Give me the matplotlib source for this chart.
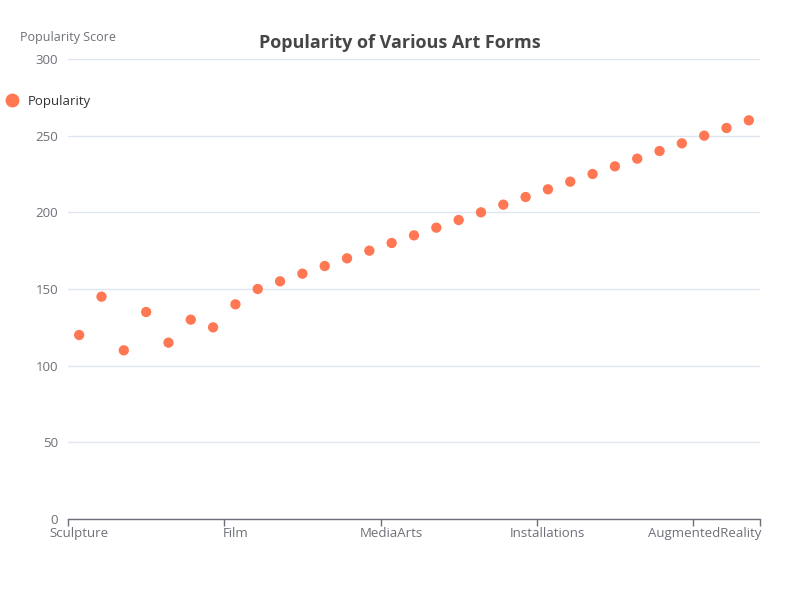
import matplotlib
matplotlib.use("Agg")
import matplotlib.pyplot as plt
from matplotlib.lines import Line2D
import numpy as np

categories = ["Sculpture", "Painting", "Photography", "Drawing", "Printmaking", "Ceramics", "Textiles",
              "Film", "Theater", "Dance", "Music", "Literature", "Architecture", "Design",
              "MediaArts", "DigitalArt", "StreetArt", "Performance", "VideoArt", "SoundArt", "LightArt",
              "Installations", "Animation", "GameArt", "NFTArt", "GenerativeArt", "AIArt", "VirtualReality",
              "AugmentedReality", "Holography", "BioArt"]
popularity = [120, 145, 110, 135, 115, 130, 125, 140, 150, 155, 160, 165, 170, 175, 180, 185,
              190, 195, 200, 205, 210, 215, 220, 225, 230, 235, 240, 245, 250, 255, 260]
y_ticks = [0, 50, 100, 150, 200, 250, 300]

plt.rcParams['font.family'] = ['Open Sans', 'DejaVu Sans']
color = '#FF7753'
axis_c = '#6E7079'

fig = plt.figure(figsize=(8, 6), dpi=100)
ax = fig.add_axes([68/800, 1 - 519/600, 692/800, 460/600])
n = len(categories)
x = np.arange(n)
ax.scatter(x, popularity, s=55, color=color, edgecolors='none', zorder=3)
ax.set_xlim(-0.5, n - 0.5)
ax.set_ylim(0, 300)
ax.set_yticks(y_ticks)
ax.set_yticklabels([str(v) for v in y_ticks], color=axis_c, fontsize=9.5)
ax.tick_params(axis='y', length=0, pad=7)
ax.grid(axis='y', color='#E0E6F1', linewidth=1, zorder=0)
for s in ['top', 'right', 'left']:
    ax.spines[s].set_visible(False)
ax.spines['bottom'].set_color(axis_c)
ax.spines['bottom'].set_linewidth(1)

# ticks at band boundaries every 7 categories, labels at band centers
label_idx = list(range(0, n, 7))
ax.set_xticks(label_idx)
ax.set_xticklabels([categories[i] for i in label_idx], color=axis_c, fontsize=9.5)
ax.tick_params(axis='x', length=0, pad=6)
bounds = [i - 0.5 for i in label_idx] + [n - 0.5]
ax.set_xticks(bounds, minor=True)
ax.tick_params(axis='x', which='minor', length=5, color=axis_c, width=1)

fig.text(0.5, 1 - 43/600, "Popularity of Various Art Forms", ha='center', va='center',
         fontsize=13, fontweight='bold', color='#464646')
fig.text(68/800, 1 - 38/600, "Popularity Score", ha='center', va='center',
         fontsize=9, color=axis_c)
fig.legend(handles=[Line2D([0], [0], marker='o', linestyle='none', markersize=10,
                           markerfacecolor=color, markeredgecolor='none', label='Popularity')],
           loc='center left', bbox_to_anchor=(4/800, 1 - 101/600), frameon=False,
           fontsize=9.5, labelcolor='#333333', handletextpad=0.6, borderaxespad=0,
           borderpad=0, handlelength=1.2)

fig.savefig("out.png", dpi=100)
